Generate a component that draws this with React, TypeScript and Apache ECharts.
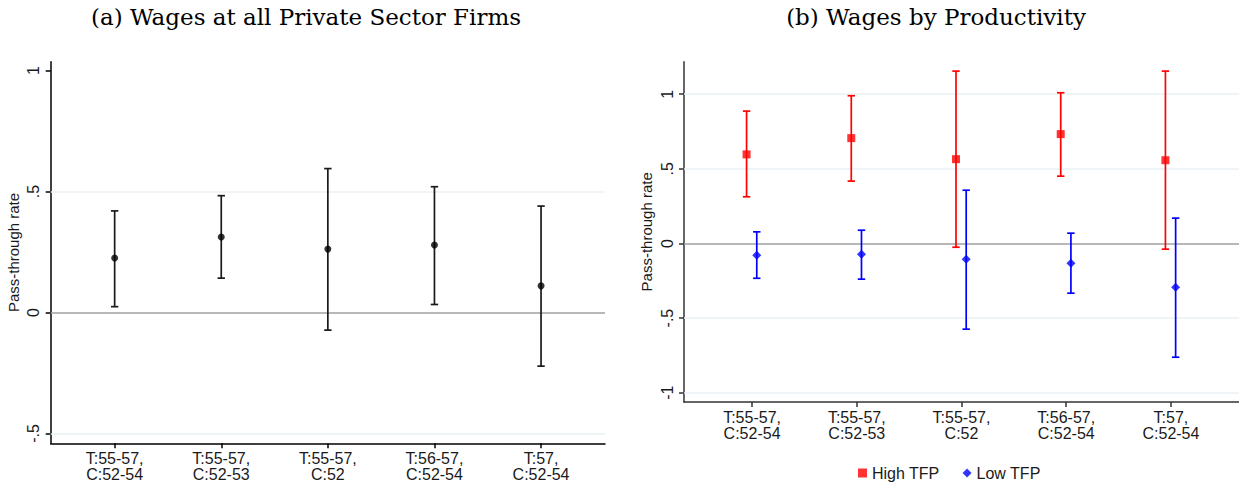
import React, { useEffect, useRef } from "react";
import * as echarts from "echarts";

// ---- data ----
const categories = ["T:55-57,\nC:52-54", "T:55-57,\nC:52-53", "T:55-57,\nC:52", "T:56-57,\nC:52-54", "T:57,\nC:52-54"];
const allEst = [0.225, 0.312, 0.262, 0.279, 0.11];
const allLo = [0.024, 0.142, -0.073, 0.033, -0.222];
const allHi = [0.42, 0.483, 0.595, 0.52, 0.44];

const highEst = [0.597, 0.706, 0.565, 0.733, 0.558];
const highLo = [0.313, 0.418, -0.025, 0.451, -0.038];
const highHi = [0.887, 0.99, 1.155, 1.01, 1.155];

const lowEst = [-0.078, -0.072, -0.105, -0.132, -0.293];
const lowLo = [-0.233, -0.239, -0.574, -0.333, -0.762];
const lowHi = [0.078, 0.089, 0.357, 0.069, 0.17];

const leftTicks = [-0.5, 0, 0.5, 1];
const rightTicks = [-1, -0.5, 0, 0.5, 1];
const catPos = [1, 2, 3, 4, 5];

const SANS = '"Liberation Sans", Arial, Helvetica, sans-serif';
const SERIF = '"DejaVu Serif", "Liberation Serif", serif';
const TXT = "#1a1a1a";

const fmtY = (v: number) => {
  if (v === 0) return "0";
  if (v === 1) return "1";
  if (v === -1) return "-1";
  return (v < 0 ? "-" : "") + "." + String(Math.abs(v)).split(".")[1];
};

function errorBars(name: string, xi: number, yi: number, lo: number[], hi: number[], color: string, offset: number, cap: number, markLines?: any) {
  return {
    type: "custom",
    name,
    xAxisIndex: xi,
    yAxisIndex: yi,
    silent: true,
    z: 3,
    encode: { x: 0, y: [1, 2] },
    data: catPos.map((c, i) => [c, lo[i], hi[i]]),
    renderItem: (_p: any, api: any) => {
      const x = api.value(0);
      const a = api.coord([x, api.value(1)]);
      const b = api.coord([x, api.value(2)]);
      const cx = a[0] + offset;
      const st = { stroke: color, lineWidth: 1.7 };
      return {
        type: "group",
        children: [
          { type: "line", shape: { x1: cx, y1: a[1], x2: cx, y2: b[1] }, style: st },
          { type: "line", shape: { x1: cx - cap, y1: a[1], x2: cx + cap, y2: a[1] }, style: st },
          { type: "line", shape: { x1: cx - cap, y1: b[1], x2: cx + cap, y2: b[1] }, style: st },
        ],
      };
    },
    markLine: markLines,
  };
}

function gridLines(vals: number[]) {
  return {
    silent: true,
    symbol: "none",
    label: { show: false },
    z: 1,
    data: vals.map((v) =>
      v === 0
        ? { yAxis: v, lineStyle: { color: "#a0a0a0", width: 1.5, type: "solid" } }
        : { yAxis: v, lineStyle: { color: "#eaf2f3", width: 1.5, type: "solid" } }
    ),
  };
}

export default function App() {
  const ref = useRef<HTMLDivElement>(null);
  useEffect(() => {
    document.body.style.margin = "0";
    const chart = echarts.init(ref.current!, undefined, { renderer: "svg" });
    const xAxisBase = (gi: number, min: number, max: number, axisColor: string) => ({
      type: "value",
      gridIndex: gi,
      min,
      max,
      splitLine: { show: false },
      axisLine: { show: true, onZero: false, lineStyle: { color: axisColor, width: 1.5 } },
      axisTick: { show: true, customValues: catPos, length: 5, lineStyle: { color: axisColor, width: 1.5 } },
      axisLabel: {
        customValues: catPos,
        formatter: (v: number) => categories[Math.round(v) - 1] ?? "",
        fontFamily: SANS,
        fontSize: 16,
        lineHeight: 16,
        color: TXT,
        margin: 7,
      },
    });
    const yAxisBase = (gi: number, min: number, max: number, ticks: number[], axisColor: string) => ({
      type: "value",
      gridIndex: gi,
      min,
      max,
      name: "Pass-through rate",
      nameLocation: "middle",
      nameGap: 30,
      nameTextStyle: { fontFamily: SANS, fontSize: 15, color: TXT },
      splitLine: { show: false },
      axisLine: { show: true, onZero: false, lineStyle: { color: axisColor, width: 1.5 } },
      axisTick: { show: true, customValues: ticks, length: 5, lineStyle: { color: axisColor, width: 1.5 } },
      axisLabel: {
        customValues: ticks,
        formatter: (v: number) => fmtY(v),
        rotate: 90,
        fontFamily: SANS,
        fontSize: 16,
        color: TXT,
        margin: 9,
      },
    });
    chart.setOption({
      animation: false,
      backgroundColor: "#ffffff",
      grid: [
        { left: 50.7, top: 61.7, width: 554.3, height: 381.6 },
        { left: 684, top: 61.7, width: 555, height: 340.3 },
      ],
      xAxis: [xAxisBase(0, 0.4, 5.6, "#000000"), xAxisBase(1, 0.35, 5.65, "#333333")],
      yAxis: [yAxisBase(0, -0.541, 1.037, leftTicks, "#000000"), yAxisBase(1, -1.062, 1.218, rightTicks, "#333333")],
      legend: {
        data: [
          { name: "High TFP", icon: "rect" },
          { name: "Low TFP", icon: "diamond" },
        ],
        left: 853,
        top: 460,
        itemWidth: 9,
        itemHeight: 9,
        itemGap: 23,
        textStyle: { fontFamily: SANS, fontSize: 16, color: TXT },
      },
      graphic: [
        { type: "text", x: 306, y: 5, style: { text: "(a) Wages at all Private Sector Firms", font: `23px ${SERIF}`, textAlign: "center", fill: "#000" } },
        { type: "text", x: 936, y: 5, style: { text: "(b) Wages by Productivity", font: `23px ${SERIF}`, textAlign: "center", fill: "#000" } },
      ],
      series: [
        errorBars("allCI", 0, 0, allLo, allHi, "#1a1a1a", 0, 3.7, gridLines([-0.5, 0, 0.5])),
        {
          type: "scatter",
          name: "All",
          xAxisIndex: 0,
          yAxisIndex: 0,
          symbol: "circle",
          symbolSize: 7,
          itemStyle: { color: "#000000" },
          z: 4,
          data: catPos.map((c, i) => [c, allEst[i]]),
        },
        errorBars("highCI", 1, 1, highLo, highHi, "#ff0000", -5.5, 3.7, gridLines([-1, -0.5, 0, 0.5, 1])),
        errorBars("lowCI", 1, 1, lowLo, lowHi, "#0000ff", 4.7, 3.7),
        {
          type: "scatter",
          name: "High TFP",
          xAxisIndex: 1,
          yAxisIndex: 1,
          symbol: "rect",
          symbolSize: 8,
          symbolOffset: [-5.5, 0],
          itemStyle: { color: "#ff0000" },
          z: 4,
          data: catPos.map((c, i) => [c, highEst[i]]),
        },
        {
          type: "scatter",
          name: "Low TFP",
          xAxisIndex: 1,
          yAxisIndex: 1,
          symbol: "diamond",
          symbolSize: 9,
          symbolOffset: [4.7, 0],
          itemStyle: { color: "#0000ff" },
          z: 4,
          data: catPos.map((c, i) => [c, lowEst[i]]),
        },
      ],
    });
    return () => chart.dispose();
  }, []);
  return <div ref={ref} style={{ width: 1239, height: 483 }} />;
}
